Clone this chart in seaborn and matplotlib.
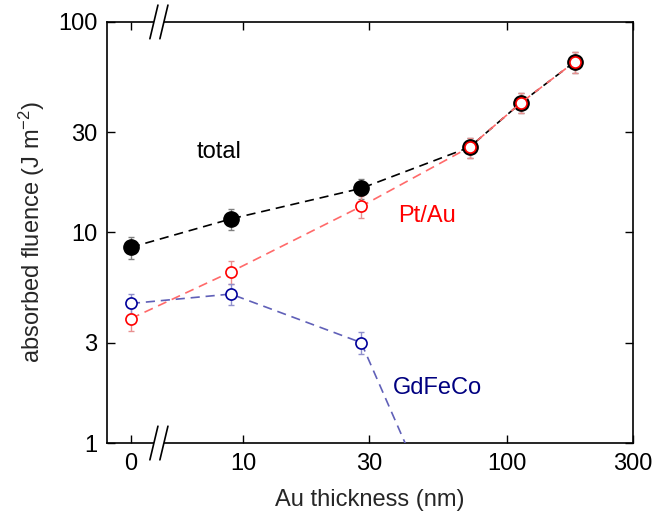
import numpy as np
import pandas as pd
import matplotlib
matplotlib.use('Agg')
import matplotlib.pyplot as plt
from matplotlib.ticker import FixedLocator, FixedFormatter, NullLocator
import seaborn as sns

# values
thickness = [0, 9, 28, 72, 113, 180]
total = [8.5, 11.6, 16.2, 25.4, 41.4, 64.6]
total_err = [1.0, 1.3, 1.8, 2.8, 4.6, 7.2]
ptau = [3.9, 6.5, 13.3, 25.4, 41.4, 64.6]
ptau_err = [0.5, 0.8, 1.6, 2.8, 4.6, 7.2]
gd_thickness = [0, 9, 28, 72]
gdfeco = [4.6, 5.1, 3.0, 0.2]
gdfeco_err = [0.5, 0.6, 0.35, 0.03]

x_ticks = [0, 10, 30, 100, 300]
x_labels = ['0', '10', '30', '100', '300']
y_ticks = [1, 3, 10, 30, 100]
y_labels = ['1', '3', '10', '30', '100']

sns.set_style('ticks')
plt.rcParams['font.family'] = ['Liberation Sans', 'DejaVu Sans']
plt.rcParams['mathtext.fontset'] = 'custom'
plt.rcParams['mathtext.rm'] = 'Liberation Sans'
plt.rcParams['mathtext.default'] = 'regular'

# broken x axis: 0 sits on a short linear stretch, log10 above 5 nm
X0 = 0.5758
XB = 5.0
slope = (np.log10(XB) - X0) / XB


def fwd(x):
    x = np.asarray(x, dtype=float)
    return np.where(x < XB, X0 + slope * x, np.log10(np.maximum(x, XB)))


def inv(y):
    y = np.asarray(y, dtype=float)
    return np.where(y < np.log10(XB), (y - X0) / slope, 10 ** np.minimum(y, 10))


df_tot = pd.DataFrame({'t': thickness, 'f': total, 'e': total_err})
df_pt = pd.DataFrame({'t': thickness, 'f': ptau, 'e': ptau_err})
df_gd = pd.DataFrame({'t': gd_thickness, 'f': gdfeco, 'e': gdfeco_err})

fig = plt.figure(figsize=(6.68, 5.22), dpi=100)
ax = fig.add_axes([0.160, 0.1513, 0.788, 0.8067])
ax.set_xscale('function', functions=(fwd, inv))
ax.set_yscale('log')

dash = (0, (5.5, 3.5))

# error bars first so markers sit on top
ax.errorbar(df_tot['t'], df_tot['f'], yerr=df_tot['e'], fmt='none',
            ecolor='#808080', elinewidth=1, capsize=2.5, capthick=1, zorder=2)
ax.errorbar(df_pt['t'], df_pt['f'], yerr=df_pt['e'], fmt='none',
            ecolor='#e89090', elinewidth=1, capsize=2.5, capthick=1, zorder=2)
ax.errorbar(df_gd['t'], df_gd['f'], yerr=df_gd['e'], fmt='none',
            ecolor='#9090cc', elinewidth=1, capsize=2.5, capthick=1, zorder=2)

sns.lineplot(data=df_tot, x='t', y='f', ax=ax, color='black', linestyle=dash,
             linewidth=1.2, marker='o', markersize=11, markerfacecolor='black',
             markeredgecolor='black', markeredgewidth=1, errorbar=None,
             sort=False, zorder=3)
sns.lineplot(data=df_pt, x='t', y='f', ax=ax, color='#ff6a6a', linestyle=dash,
             linewidth=1.2, marker='o', markersize=8, markerfacecolor='white',
             markeredgecolor='#ff0000', markeredgewidth=1.2, errorbar=None,
             sort=False, zorder=4)
sns.lineplot(data=df_gd, x='t', y='f', ax=ax, color='#6060b8', linestyle=dash,
             linewidth=1.2, marker='o', markersize=8, markerfacecolor='white',
             markeredgecolor='#00009a', markeredgewidth=1.2, errorbar=None,
             sort=False, zorder=4)

ax.set_xlim(-3.69, 300)
ax.set_ylim(1, 100)
ax.xaxis.set_major_locator(FixedLocator(x_ticks))
ax.xaxis.set_major_formatter(FixedFormatter(x_labels))
ax.yaxis.set_major_locator(FixedLocator(y_ticks))
ax.yaxis.set_major_formatter(FixedFormatter(y_labels))
ax.xaxis.set_minor_locator(NullLocator())
ax.yaxis.set_minor_locator(NullLocator())
ax.tick_params(which='both', direction='in', top=True, right=True,
               length=6, width=1, labelsize=17, pad=7, colors='black')
for sp in ax.spines.values():
    sp.set_visible(True)
    sp.set_linewidth(1.2)
    sp.set_color('black')

ax.set_xlabel('Au thickness (nm)', fontsize=17, labelpad=10)
ax.set_ylabel('absorbed fluence (J m$^{-2}$)', fontsize=17, labelpad=8)

ax.text(0.171, 0.691, 'total', transform=ax.transAxes, fontsize=17,
        color='black', va='center', ha='left')
ax.text(0.553, 0.539, 'Pt/Au', transform=ax.transAxes, fontsize=17,
        color='#ff0000', va='center', ha='left')
ax.text(0.544, 0.131, 'GdFeCo', transform=ax.transAxes, fontsize=17,
        color='#000080', va='center', ha='left')

# axis break marks on the top and bottom spines
for y0 in (0, 1):
    ax.plot([0.0894, 0.108], [y0, y0], transform=ax.transAxes, color='white',
            lw=3, clip_on=False, zorder=5, solid_capstyle='butt')
    for dx in (0, 0.019):
        ax.plot([0.0817 + dx, 0.097 + dx], [y0 - 0.04, y0 + 0.04],
                transform=ax.transAxes, color='black', lw=1.2,
                clip_on=False, zorder=6)

fig.savefig('out.png', dpi=100)
